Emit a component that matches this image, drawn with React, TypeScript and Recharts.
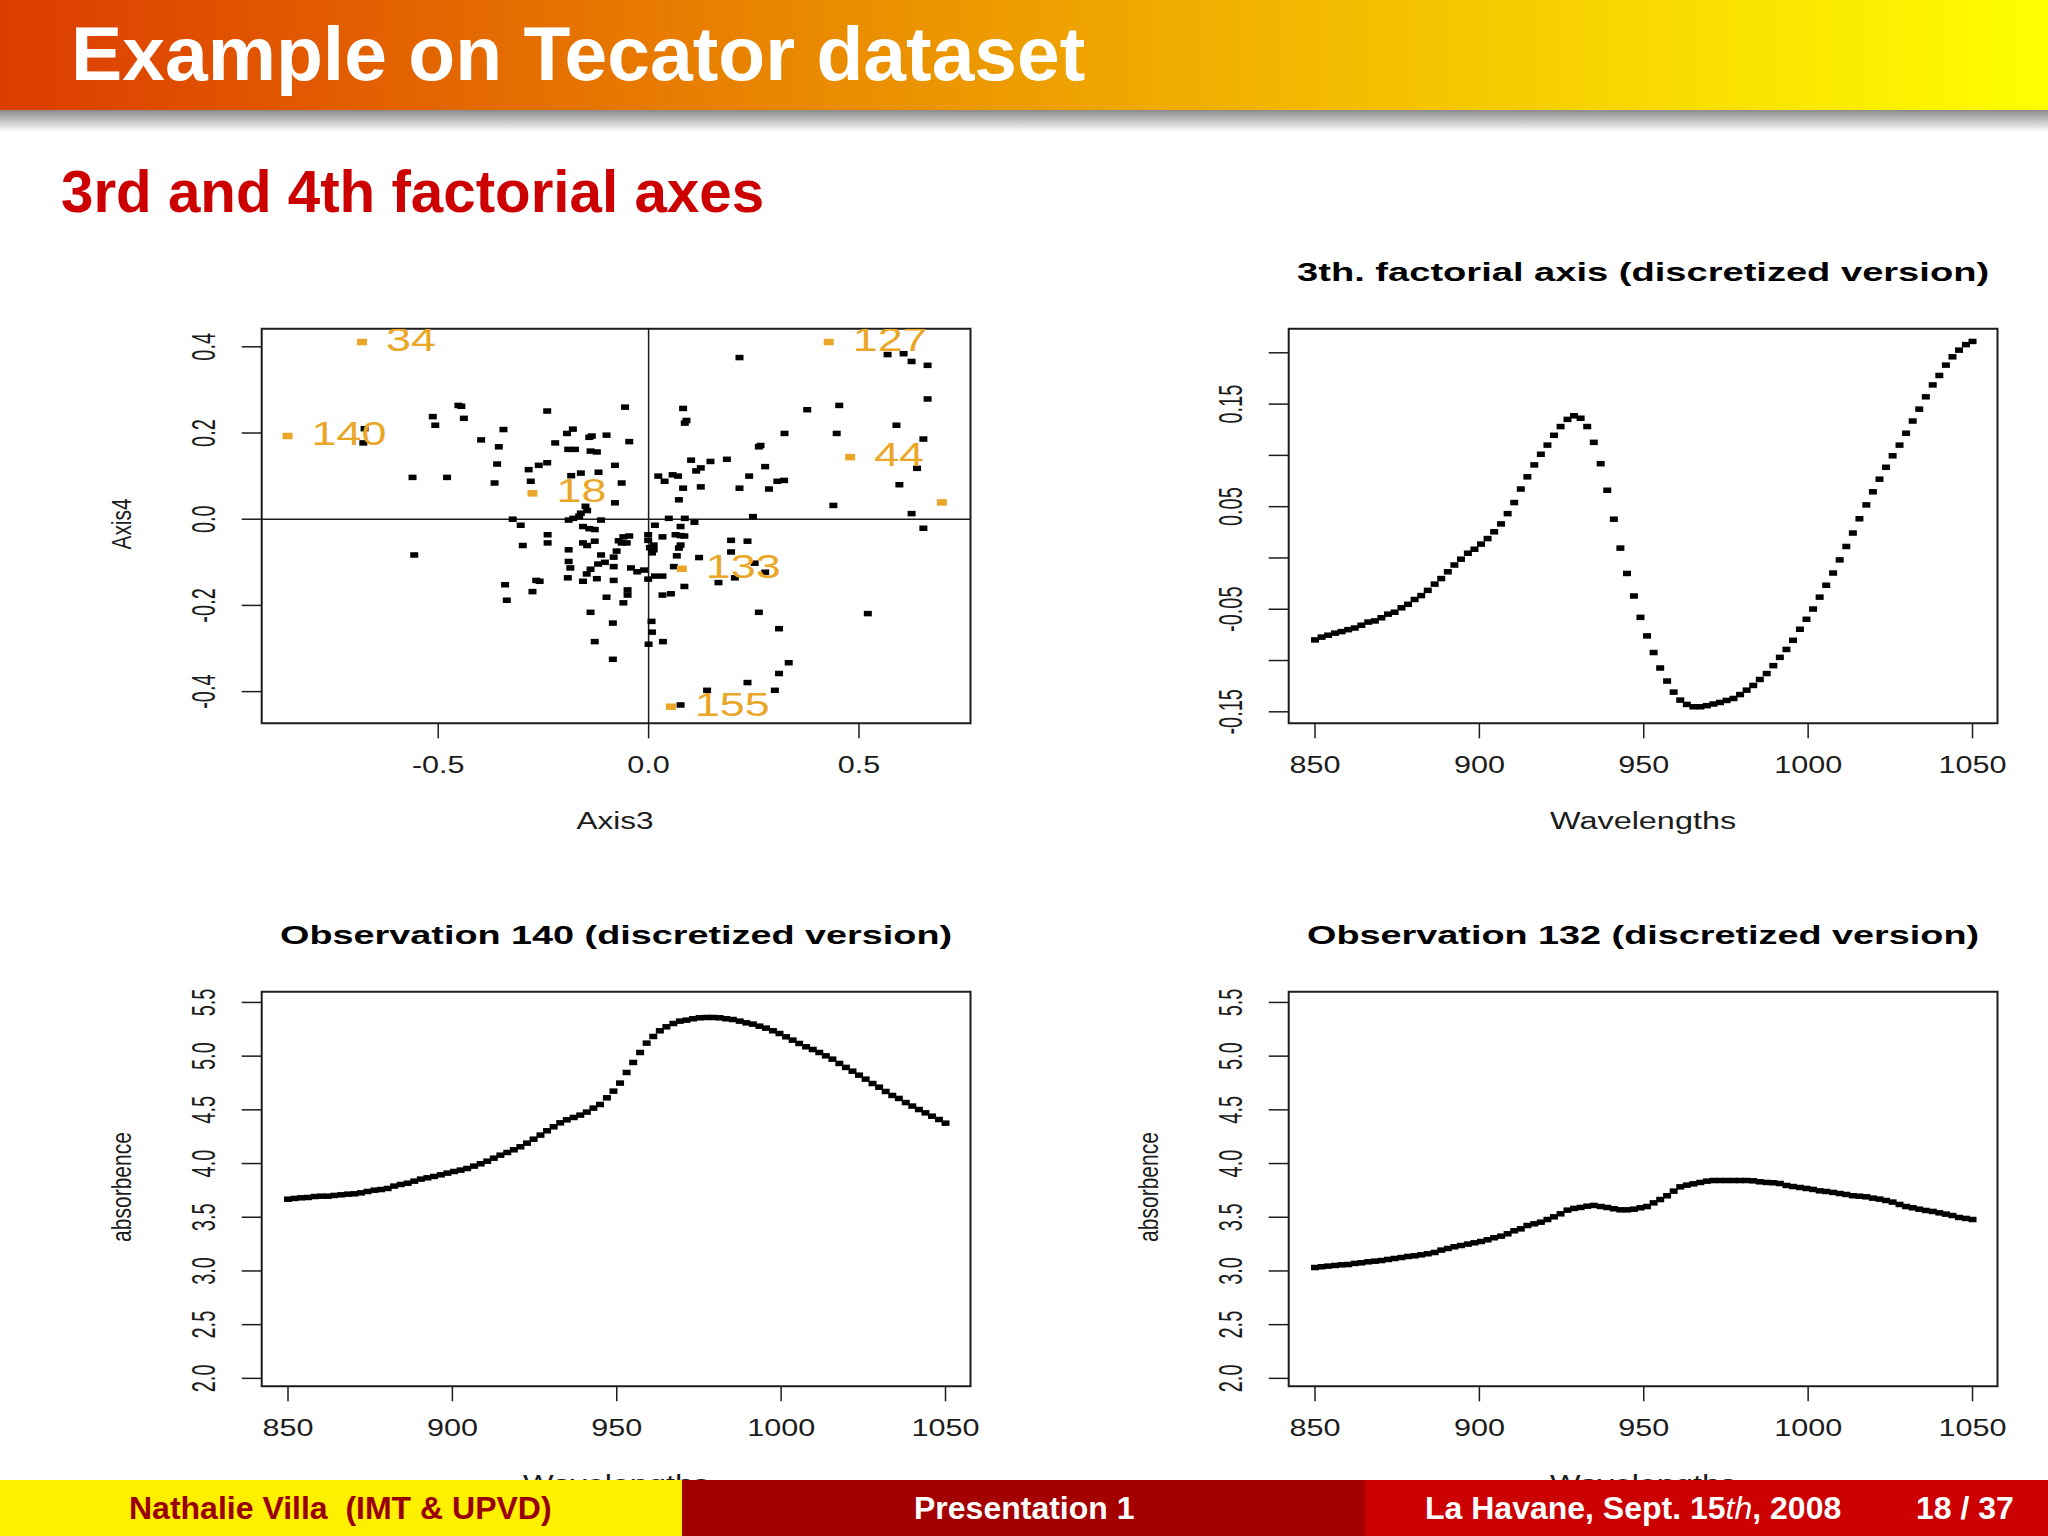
import React from "react";
import { ScatterChart, Scatter, XAxis, YAxis, ReferenceArea, ReferenceLine } from "recharts";

// Channel wavelengths shared by the three curves
const wavelengths = [
  850.0, 852.0, 854.0, 856.1, 858.1, 860.1, 862.1, 864.1, 866.2, 868.2,
  870.2, 872.2, 874.2, 876.3, 878.3, 880.3, 882.3, 884.3, 886.4, 888.4,
  890.4, 892.4, 894.4, 896.5, 898.5, 900.5, 902.5, 904.5, 906.6, 908.6,
  910.6, 912.6, 914.6, 916.7, 918.7, 920.7, 922.7, 924.7, 926.8, 928.8,
  930.8, 932.8, 934.8, 936.9, 938.9, 940.9, 942.9, 944.9, 947.0, 949.0,
  951.0, 953.0, 955.0, 957.1, 959.1, 961.1, 963.1, 965.1, 967.2, 969.2,
  971.2, 973.2, 975.2, 977.3, 979.3, 981.3, 983.3, 985.3, 987.4, 989.4,
  991.4, 993.4, 995.4, 997.5, 999.5, 1001.5, 1003.5, 1005.5, 1007.6, 1009.6,
  1011.6, 1013.6, 1015.6, 1017.7, 1019.7, 1021.7, 1023.7, 1025.7, 1027.8, 1029.8,
  1031.8, 1033.8, 1035.8, 1037.9, 1039.9, 1041.9, 1043.9, 1045.9, 1048.0, 1050.0,
];

const factorialAxis3 = [
  -0.0799, -0.0772, -0.0753, -0.0733, -0.0718, -0.0699, -0.0683, -0.0656, -0.0625, -0.0614,
  -0.0583, -0.0548, -0.0529, -0.0486, -0.0452, -0.0405, -0.0367, -0.0316, -0.0255, -0.0201,
  -0.0135, -0.0069, -0.0012, 0.0046, 0.0085, 0.0135, 0.0189, 0.0255, 0.0332, 0.0432,
  0.054, 0.0672, 0.0791, 0.0907, 0.1011, 0.11, 0.1196, 0.1281, 0.1351, 0.1386,
  0.1362, 0.1281, 0.1127, 0.0919, 0.066, 0.0378, 0.0096, -0.0151, -0.0371, -0.0579,
  -0.076, -0.0922, -0.1073, -0.12, -0.1308, -0.1386, -0.1428, -0.1451, -0.1451, -0.144,
  -0.1424, -0.1409, -0.1389, -0.137, -0.1332, -0.1289, -0.1243, -0.1185, -0.1127, -0.105,
  -0.0969, -0.0892, -0.0803, -0.0695, -0.0598, -0.0498, -0.0382, -0.0266, -0.0147, -0.0019,
  0.0112, 0.0243, 0.0382, 0.0517, 0.0645, 0.0768, 0.0884, 0.0996, 0.11, 0.1216,
  0.1335, 0.1451, 0.1571, 0.1687, 0.1779, 0.188, 0.1961, 0.2026, 0.208, 0.2111,
];

const observation140 = [
  3.668, 3.675, 3.681, 3.684, 3.693, 3.696, 3.696, 3.703, 3.709, 3.715,
  3.718, 3.727, 3.74, 3.752, 3.758, 3.768, 3.79, 3.805, 3.817, 3.836,
  3.855, 3.867, 3.88, 3.895, 3.911, 3.926, 3.939, 3.954, 3.976, 3.998,
  4.022, 4.05, 4.078, 4.103, 4.128, 4.156, 4.19, 4.227, 4.265, 4.305,
  4.342, 4.379, 4.407, 4.429, 4.451, 4.479, 4.516, 4.55, 4.612, 4.674,
  4.749, 4.848, 4.941, 5.034, 5.121, 5.183, 5.236, 5.273, 5.304, 5.326,
  5.335, 5.348, 5.357, 5.36, 5.36, 5.357, 5.348, 5.341, 5.326, 5.31,
  5.298, 5.279, 5.261, 5.236, 5.211, 5.18, 5.149, 5.118, 5.087, 5.062,
  5.034, 5.003, 4.972, 4.932, 4.895, 4.86, 4.823, 4.786, 4.745, 4.711,
  4.671, 4.634, 4.606, 4.568, 4.535, 4.503, 4.472, 4.441, 4.41, 4.376,
];

const observation132 = [
  3.032, 3.039, 3.045, 3.051, 3.057, 3.06, 3.07, 3.076, 3.085, 3.091,
  3.097, 3.107, 3.116, 3.125, 3.135, 3.141, 3.15, 3.16, 3.172, 3.194,
  3.209, 3.225, 3.237, 3.25, 3.262, 3.274, 3.29, 3.309, 3.324, 3.346,
  3.374, 3.392, 3.423, 3.439, 3.454, 3.479, 3.504, 3.532, 3.566, 3.582,
  3.591, 3.603, 3.61, 3.6, 3.591, 3.579, 3.569, 3.569, 3.575, 3.588,
  3.6, 3.634, 3.665, 3.7, 3.743, 3.783, 3.799, 3.811, 3.824, 3.836,
  3.842, 3.842, 3.842, 3.842, 3.842, 3.842, 3.839, 3.83, 3.824, 3.821,
  3.814, 3.796, 3.786, 3.777, 3.768, 3.759, 3.746, 3.74, 3.731, 3.721,
  3.712, 3.7, 3.696, 3.69, 3.678, 3.669, 3.656, 3.641, 3.619, 3.6,
  3.588, 3.575, 3.563, 3.554, 3.541, 3.529, 3.516, 3.498, 3.489, 3.479,
];

// Factorial scores, same order in both arrays
const scoreAxis3 = [
  -0.452, -0.445, -0.513, -0.439, -0.507, -0.675, -0.678, -0.561, -0.479, -0.345,
  -0.398, -0.356, -0.36, -0.366, -0.241, -0.056, -0.194, -0.18, -0.141, -0.135,
  -0.1, -0.222, -0.046, -0.191, -0.175, -0.138, -0.123, -0.241, -0.261, -0.285,
  -0.28, -0.08, -0.119, -0.161, -0.184, -0.064, -0.08, -0.15, -0.146, -0.161,
  -0.165, -0.179, -0.19, -0.113, -0.323, -0.304,
  0.216, 0.568, 0.606, 0.625, 0.663, 0.663, 0.082, 0.377, 0.453, 0.09,
  0.086, 0.589, 0.323, 0.447, 0.653, 0.266, 0.262, 0.101, 0.186, 0.147,
  0.124, 0.113, 0.277, 0.638, 0.023, 0.057, 0.07, 0.038, 0.239, 0.322,
  0.306, 0.082, 0.124, 0.216, 0.286, 0.596, 0.072, 0.439, 0.248, 0.625,
  0.048, 0.086, 0.109, 0.653,
  0.015, 0.076, -0.557, -0.24, -0.299, -0.24, -0.156, -0.141, -0.128, -0.19,
  -0.156, -0.146, -0.128, -0.071, -0.06, -0.046, -0.064, -0.052, -0.076, -0.113,
  -0.083, -0.19, -0.104, -0.12, -0.138, -0.186, -0.147, -0.083, -0.042, -0.027,
  -0.011, -0.192, -0.156, -0.123, -0.083, -0.267, -0.259, -0.341, -0.337, -0.276,
  -0.001, -0.001, 0.012, 0.003, 0.012, 0.008, 0.033, 0.064, 0.076, 0.085,
  0.076, 0.072, 0.067, 0.12, 0.06, -0.001, 0.015, 0.033, 0.085, 0.053,
  0.033, -0.05, -0.05, -0.1, -0.06, -0.138, -0.085, -0.128, -0.085, 0.007,
  0.008, 0, 0.034, 0.166, 0.205, 0.196, 0.235, 0.196, 0.252, 0.277,
  0.262, 0.31, 0.521, 0.333, 0.31, 0.235, 0.139, 0.3, 0.076,
];
const scoreAxis4 = [
  0.264, 0.262, 0.238, 0.234, 0.218, 0.21, 0.177, 0.097, 0.097, 0.208,
  0.184, 0.168, 0.128, 0.084, 0.251, 0.26, 0.199, 0.209, 0.19, 0.193,
  0.195, 0.177, 0.18, 0.162, 0.162, 0.158, 0.156, 0.131, 0.125, 0.115,
  0.088, 0.125, 0.109, 0.107, 0.101, 0.084, 0.038, 0.03, 0.02, 0.014,
  0.007, 0.002, -0.002, -0.002, 0, -0.014,
  0.375, 0.382, 0.384, 0.366, 0.357, 0.279, 0.257, 0.254, 0.264, 0.229,
  0.223, 0.218, 0.199, 0.199, 0.186, 0.171, 0.168, 0.137, 0.139, 0.134,
  0.119, 0.112, 0.122, 0.118, 0.1, 0.103, 0.1, 0.088, 0.1, 0.09,
  0.088, 0.072, 0.075, 0.072, 0.07, 0.08, 0.045, 0.032, 0.006, 0.013,
  0.002, 0.002, -0.007, -0.021,
  -0.014, -0.017, -0.083, -0.036, -0.061, -0.055, -0.017, -0.022, -0.024, -0.071,
  -0.055, -0.061, -0.051, -0.05, -0.041, -0.039, -0.055, -0.055, -0.074, -0.083,
  -0.088, -0.098, -0.1, -0.104, -0.116, -0.113, -0.127, -0.11, -0.113, -0.122,
  -0.118, -0.136, -0.144, -0.138, -0.142, -0.142, -0.144, -0.152, -0.188, -0.168,
  -0.036, -0.049, -0.06, -0.066, -0.071, -0.078, -0.041, -0.036, -0.038, -0.039,
  -0.06, -0.067, -0.085, -0.089, -0.11, -0.139, -0.132, -0.132, -0.156, -0.173,
  -0.176, -0.164, -0.176, -0.181, -0.194, -0.216, -0.241, -0.284, -0.325, -0.237,
  -0.262, -0.29, -0.284, -0.147, -0.136, -0.049, -0.051, -0.076, -0.102, -0.123,
  -0.216, -0.254, -0.219, -0.333, -0.358, -0.379, -0.397, -0.397, -0.431,
];

// Highlighted observations
const highlightLabels = ["34", "127", "140", "44", "18", "133", "155", ""];
const highlightAxis3 = [-0.681, 0.428, -0.858, 0.479, -0.276, 0.079, 0.053, 0.697];
const highlightAxis4 = [0.411, 0.411, 0.193, 0.144, 0.06, -0.115, -0.435, 0.039];

const scoreXTicks = [-0.5, 0, 0.5];
const scoreYTicks = [-0.4, -0.2, 0, 0.2, 0.4];
const waveTicks = [850, 900, 950, 1000, 1050];
const axisYTicks = [-0.15, -0.1, -0.05, 0, 0.05, 0.1, 0.15, 0.2];
const axisYLabelled = [-0.15, -0.05, 0.05, 0.15];
const absorbenceTicks = [2, 2.5, 3, 3.5, 4, 4.5, 5, 5.5];

const INK = "#1c1c1c";
const ORANGE = "#eaa626";
const FONT = "'Liberation Sans', Arial, sans-serif";

const CHART_W = 1000;
const CHART_H = 620;
const PLOT_LEFT = 241.7;
const PLOT_RIGHT = 49.5;
const PLOT_TOP = 98.7;
const PLOT_H = 394.6;
const PLOT_W = CHART_W - PLOT_LEFT - PLOT_RIGHT;
const PLOT_CX = PLOT_LEFT + PLOT_W / 2;

const Square = (props: any) => (
  <rect x={props.cx - 4} y={props.cy - 2.75} width={8} height={5.5} fill="#000" />
);

const HighlightMark = (props: any) => (
  <g>
    <rect x={props.cx - 5} y={props.cy - 3.25} width={10} height={6.5} fill={ORANGE} />
    <g clipPath="url(#scoreClip)">
      <text
        transform={`translate(${props.cx + 24},${props.cy + 9}) scale(1.36,1)`}
        fontFamily={FONT}
        fontSize={33}
        fill={ORANGE}
      >
        {props.payload.label}
      </text>
    </g>
  </g>
);

interface PlotProps {
  left: number;
  top: number;
  title?: string;
  titleWidth?: number;
  xLabel: string;
  xLabelWidth: number;
  xLabelX?: number;
  yLabel?: string;
  yLabelLength?: number;
  xDomain: number[];
  yDomain: number[];
  xTicks: number[];
  yTicks: number[];
  yLabelled?: number[];
  xDigits: number;
  yDigits: number;
  children: React.ReactNode;
}

function RPlot(p: PlotProps) {
  const xTick = (t: any) => (
    <text
      transform={`translate(${t.x},${t.y + 33}) scale(1.33,1)`}
      textAnchor="middle"
      fontFamily={FONT}
      fontSize={23}
      fill={INK}
    >
      {Number(t.payload.value).toFixed(p.xDigits)}
    </text>
  );
  const yTick = (t: any) => {
    if (p.yLabelled && !p.yLabelled.includes(t.payload.value)) return <g />;
    return (
      <text
        transform={`translate(${t.x - 25},${t.y}) scale(1.67,1) rotate(-90)`}
        textAnchor="middle"
        fontFamily={FONT}
        fontSize={20}
        fill={INK}
      >
        {Number(t.payload.value).toFixed(p.yDigits)}
      </text>
    );
  };
  return (
    <div style={{ position: "absolute", left: p.left, top: p.top }}>
      <ScatterChart
        width={CHART_W}
        height={CHART_H}
        margin={{ top: PLOT_TOP, right: PLOT_RIGHT, bottom: 0, left: 0 }}
      >
        <defs>
          <clipPath id="scoreClip">
            <rect x={PLOT_LEFT} y={PLOT_TOP} width={PLOT_W} height={PLOT_H} />
          </clipPath>
        </defs>
        <XAxis
          type="number"
          dataKey="x"
          domain={p.xDomain}
          ticks={p.xTicks}
          interval={0}
          allowDataOverflow
          axisLine={false}
          tickSize={15}
          tickLine={{ stroke: INK, strokeWidth: 1.5 }}
          tick={xTick}
          height={CHART_H - PLOT_TOP - PLOT_H}
        />
        <YAxis
          type="number"
          dataKey="y"
          domain={p.yDomain}
          ticks={p.yTicks}
          interval={0}
          allowDataOverflow
          axisLine={false}
          tickSize={20}
          tickLine={{ stroke: INK, strokeWidth: 1.5 }}
          tick={yTick}
          width={PLOT_LEFT}
        />
        {p.children}
        <ReferenceArea
          x1={p.xDomain[0]}
          x2={p.xDomain[1]}
          y1={p.yDomain[0]}
          y2={p.yDomain[1]}
          fill="none"
          fillOpacity={0}
          stroke={INK}
          strokeWidth={2}
          ifOverflow="visible"
        />
        {p.title && (
          <text
            x={PLOT_CX}
            y={PLOT_TOP - 48}
            textAnchor="middle"
            fontFamily={FONT}
            fontWeight="bold"
            fontSize={25}
            fill="#000"
            textLength={p.titleWidth}
            lengthAdjust="spacingAndGlyphs"
          >
            {p.title}
          </text>
        )}
        <text
          x={p.xLabelX ?? PLOT_CX}
          y={PLOT_TOP + PLOT_H + 106}
          textAnchor="middle"
          fontFamily={FONT}
          fontSize={23}
          fill={INK}
          textLength={p.xLabelWidth}
          lengthAdjust="spacingAndGlyphs"
        >
          {p.xLabel}
        </text>
        {p.yLabel && (
          <text
            transform={`translate(${PLOT_LEFT - 131},${PLOT_TOP + PLOT_H / 2 - 2}) scale(1.35,1) rotate(-90)`}
            textAnchor="middle"
            fontFamily={FONT}
            fontSize={21}
            fill={INK}
            textLength={p.yLabelLength}
            lengthAdjust="spacingAndGlyphs"
          >
            {p.yLabel}
          </text>
        )}
      </ScatterChart>
    </div>
  );
}

const scoreData = scoreAxis3.map((x, i) => ({ x, y: scoreAxis4[i] }));
const highlightData = highlightAxis3.map((x, i) => ({ x, y: highlightAxis4[i], label: highlightLabels[i] }));
const curve = (values: number[]) => values.map((y, i) => ({ x: wavelengths[i], y }));

// baseline helper for slide text, Liberation Sans with line-height 1
const slideText = (x: number, baseline: number, size: number, color: string): React.CSSProperties => ({
  position: "absolute",
  left: x,
  top: baseline - 0.8465 * size,
  fontFamily: FONT,
  fontWeight: "bold",
  fontSize: size,
  lineHeight: 1,
  color,
  whiteSpace: "pre",
});

export default function App() {
  const waveDomain = [842, 1057.6];
  const absDomain = [1.926, 5.6];
  return (
    <div style={{ position: "absolute", left: 0, top: 0, width: 2048, height: 1536, background: "#fff", overflow: "hidden" }}>
      <RPlot
        left={20}
        top={230.3}
        xLabel="Axis3"
        xLabelWidth={77}
        xLabelX={PLOT_CX - 1}
        yLabel="Axis4"
        yLabelLength={51}
        xDomain={[-0.9195, 0.765]}
        yDomain={[-0.4735, 0.442]}
        xTicks={scoreXTicks}
        yTicks={scoreYTicks}
        xDigits={1}
        yDigits={1}
      >
        <ReferenceLine x={0} stroke={INK} strokeWidth={1.5} />
        <ReferenceLine y={0} stroke={INK} strokeWidth={1.5} />
        <Scatter data={scoreData} shape={Square} isAnimationActive={false} />
        <Scatter data={highlightData} shape={HighlightMark} isAnimationActive={false} />
      </RPlot>

      <RPlot
        left={1047}
        top={230.3}
        title="3th. factorial axis (discretized version)"
        titleWidth={692}
        xLabel="Wavelengths"
        xLabelWidth={186}
        xDomain={waveDomain}
        yDomain={[-0.1612, 0.2235]}
        xTicks={waveTicks}
        yTicks={axisYTicks}
        yLabelled={axisYLabelled}
        xDigits={0}
        yDigits={2}
      >
        <Scatter data={curve(factorialAxis3)} shape={Square} isAnimationActive={false} />
      </RPlot>

      <RPlot
        left={20}
        top={893}
        title="Observation 140 (discretized version)"
        titleWidth={672}
        xLabel="Wavelengths"
        xLabelWidth={186}
        yLabel="absorbence"
        yLabelLength={110}
        xDomain={waveDomain}
        yDomain={absDomain}
        xTicks={waveTicks}
        yTicks={absorbenceTicks}
        xDigits={0}
        yDigits={1}
      >
        <Scatter data={curve(observation140)} shape={Square} isAnimationActive={false} />
      </RPlot>

      <RPlot
        left={1047}
        top={893}
        title="Observation 132 (discretized version)"
        titleWidth={672}
        xLabel="Wavelengths"
        xLabelWidth={186}
        yLabel="absorbence"
        yLabelLength={110}
        xDomain={waveDomain}
        yDomain={absDomain}
        xTicks={waveTicks}
        yTicks={absorbenceTicks}
        xDigits={0}
        yDigits={1}
      >
        <Scatter data={curve(observation132)} shape={Square} isAnimationActive={false} />
      </RPlot>

      {/* slide header */}
      <div style={{ position: "absolute", left: 0, top: 0, width: 2048, height: 110, background: "linear-gradient(90deg, #dc3c00, #ffff00)" }} />
      <div style={{ position: "absolute", left: 0, top: 110, width: 2048, height: 22, background: "linear-gradient(180deg, #8a8a8a, #ffffff)" }} />
      <div style={slideText(71, 80, 76.8, "#fff")}>Example on Tecator dataset</div>
      <div style={slideText(61, 212, 58.3, "#cc0000")}>3rd and 4th factorial axes</div>

      {/* slide footer */}
      <div style={{ position: "absolute", left: 0, top: 1480, width: 682, height: 56, background: "#fff000" }} />
      <div style={{ position: "absolute", left: 682, top: 1480, width: 683, height: 56, background: "#a50000" }} />
      <div style={{ position: "absolute", left: 1365, top: 1480, width: 683, height: 56, background: "#cc0000" }} />
      <div style={slideText(129, 1519, 32, "#990000")}>Nathalie Villa  (IMT &amp; UPVD)</div>
      <div style={slideText(914, 1519, 32, "#fff")}>Presentation 1</div>
      <div style={slideText(1425, 1519, 32, "#fff")}>
        La Havane, Sept. 15<span style={{ fontStyle: "italic", fontWeight: "normal" }}>th</span>, 2008
      </div>
      <div style={slideText(1916, 1519, 32, "#fff")}>18 / 37</div>
    </div>
  );
}
